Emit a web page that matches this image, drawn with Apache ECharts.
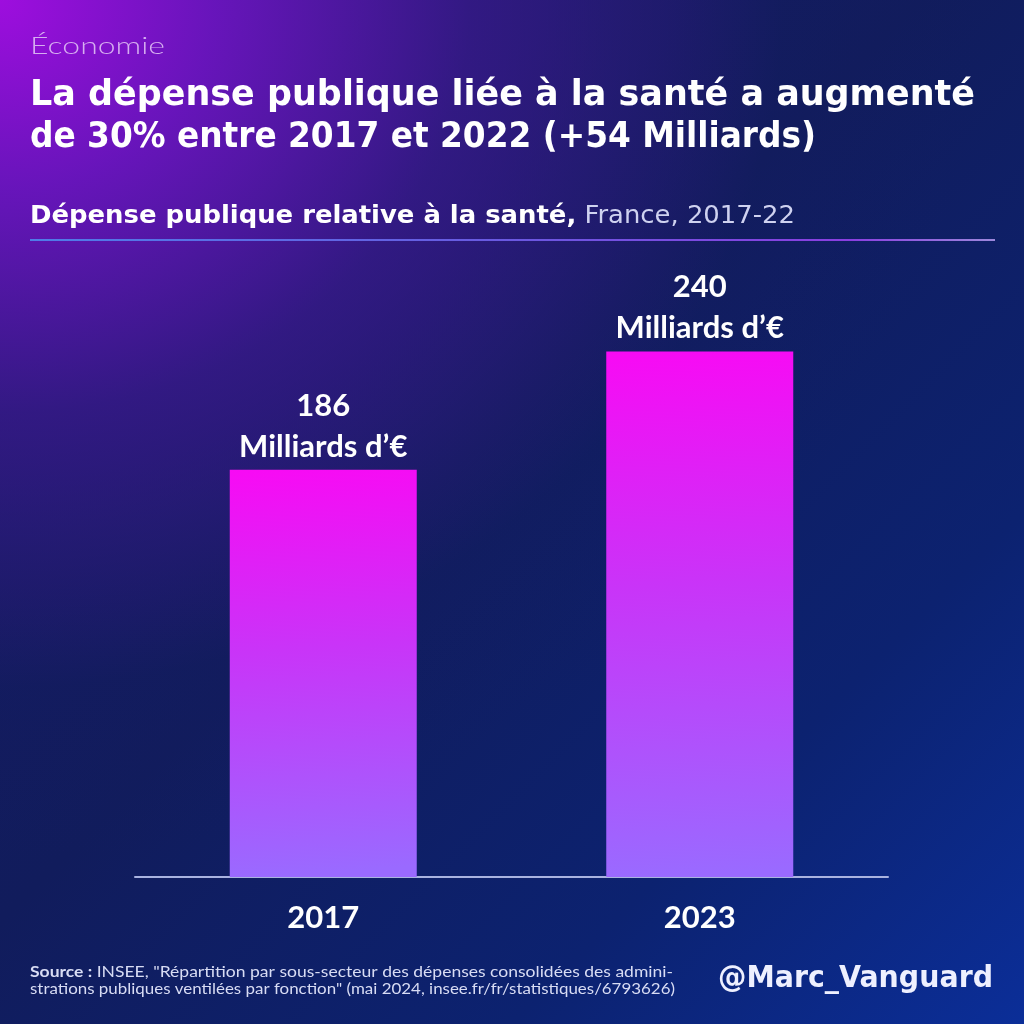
<!DOCTYPE html>
<html>
<head>
<meta charset="utf-8">
<script src="https://cdn.jsdelivr.net/npm/echarts@6/dist/echarts.min.js"></script>
<style>
html,body{margin:0;padding:0;}
#c{width:1024px;height:1024px;
background:
 radial-gradient(ellipse 980px 860px at 0 0, rgba(158,14,222,1) 0%, rgba(112,20,196,0.9) 22%, rgba(66,24,150,0.65) 48%, rgba(24,28,104,0.15) 80%, rgba(20,28,100,0) 100%),
 linear-gradient(135deg, #161a62 0%, #111c5c 45%, #0c2270 75%, #0b2e98 100%);}
</style>
</head>
<body>
<div id="c"></div>
<script>
const categories = ['2017', '2023'];
const values = [186, 240];
const unitLabel = 'Milliards d\u2019\u20ac';
const kicker = '\u00c9conomie';
const titleLines = ['La d\u00e9pense publique li\u00e9e \u00e0 la sant\u00e9 a augment\u00e9', 'de 30% entre 2017 et 2022 (+54 Milliards)'];
const subtitleBold = 'D\u00e9pense publique relative \u00e0 la sant\u00e9,';
const subtitleLight = ' France, 2017-22';
const sourceLead = 'Source :';
const sourceLines = [' INSEE, "R\u00e9partition par sous-secteur des d\u00e9penses consolid\u00e9es des admini-', 'strations publiques ventil\u00e9es par fonction" (mai 2024, insee.fr/fr/statistiques/6793626)'];
const handle = '@Marc_Vanguard';

const LATO = 'Lato, "Open Sans", sans-serif';
const DV = '"DejaVu Sans", Verdana, sans-serif';
const ctx = document.createElement('canvas').getContext('2d');
function tw(font, text) { ctx.font = font; return ctx.measureText(text).width; }

const fKicker = '300 24px ' + LATO;
const fTitle = 'bold 36px ' + DV;
const fSubB = 'bold 24px ' + DV;
const fSubL = '24px ' + DV;
const fSrc = '15px ' + LATO;
const fSrcB = 'bold 15px ' + LATO;
const fHandle = 'bold 31px ' + DV;

const sKicker = 135 / tw(fKicker, kicker);
const sTitle1 = 945 / tw(fTitle, titleLines[0]);
const sTitle2 = 786 / tw(fTitle, titleLines[1]);
const sSub = 765 / (tw(fSubB, subtitleBold) + tw(fSubL, subtitleLight));
const sSrc1 = 643 / (tw(fSrcB, sourceLead) + tw(fSrc, sourceLines[0]));
const sSrc2 = 645 / tw(fSrc, sourceLines[1]);
const sHandle = 275 / tw(fHandle, handle);

const chart = echarts.init(document.getElementById('c'), null, {renderer: 'canvas'});
chart.setOption({
  backgroundColor: 'transparent',
  grid: {left: 135, right: 136, top: 220, bottom: 147},
  xAxis: {
    type: 'category',
    data: categories,
    axisLine: {lineStyle: {color: '#a9b3e0', width: 2}},
    axisTick: {show: false},
    axisLabel: {color: '#ffffff', fontFamily: LATO, fontWeight: 'bold', fontSize: 31, margin: 25}
  },
  yAxis: {type: 'value', min: 0, max: 300, show: false, splitLine: {show: false}},
  series: [{
    type: 'bar',
    data: values,
    barWidth: 187,
    itemStyle: {
      color: new echarts.graphic.LinearGradient(0, 0, 0.15, 1, [
        {offset: 0, color: '#f80af4'},
        {offset: 0.45, color: '#c934f8'},
        {offset: 1, color: '#9a6aff'}
      ])
    },
    label: {
      show: true,
      position: 'top',
      distance: 8,
      formatter: p => '{v|' + p.value + '}\n{u|' + unitLabel + '}',
      rich: {
        v: {color: '#ffffff', fontFamily: LATO, fontWeight: 'bold', fontSize: 31, lineHeight: 52},
        u: {color: '#ffffff', fontFamily: LATO, fontWeight: 'bold', fontSize: 31, lineHeight: 30}
      }
    }
  }],
  graphic: [
    {type: 'text', x: 30, y: 46, scaleX: sKicker, style: {text: kicker, fill: '#d6aef0', font: fKicker, verticalAlign: 'middle'}},
    {type: 'text', x: 30, y: 96, scaleX: sTitle1, style: {text: titleLines[0], fill: '#ffffff', font: fTitle, verticalAlign: 'middle'}},
    {type: 'text', x: 30, y: 138, scaleX: sTitle2, style: {text: titleLines[1], fill: '#ffffff', font: fTitle, verticalAlign: 'middle'}},
    {type: 'text', x: 30, y: 217, scaleX: sSub, style: {
      text: '{b|' + subtitleBold + '}{l|' + subtitleLight + '}',
      verticalAlign: 'middle',
      rich: {
        b: {fill: '#ffffff', font: fSubB},
        l: {fill: '#cfd2f0', font: fSubL}
      }
    }},
    {type: 'rect', shape: {x: 30, y: 239, width: 965, height: 2}, style: {
      fill: new echarts.graphic.LinearGradient(0, 0, 1, 0, [
        {offset: 0, color: '#4f7ce8'}, {offset: 0.5, color: '#6a58e0'},
        {offset: 0.85, color: '#8a3ee0'}, {offset: 1, color: '#9c88dc'}
      ])
    }},
    {type: 'text', x: 30, y: 972, scaleX: sSrc1, style: {
      text: '{b|' + sourceLead + '}' + sourceLines[0],
      fill: '#d8dcf4', font: fSrc, verticalAlign: 'middle',
      rich: {b: {fill: '#d8dcf4', font: fSrcB}}
    }},
    {type: 'text', x: 30, y: 989, scaleX: sSrc2, style: {
      text: sourceLines[1], fill: '#d8dcf4', font: fSrc, verticalAlign: 'middle'
    }},
    {type: 'text', x: 718, y: 979, scaleX: sHandle, style: {text: handle, fill: '#eef0ff', font: fHandle, verticalAlign: 'middle'}}
  ]
});
</script>
</body>
</html>
